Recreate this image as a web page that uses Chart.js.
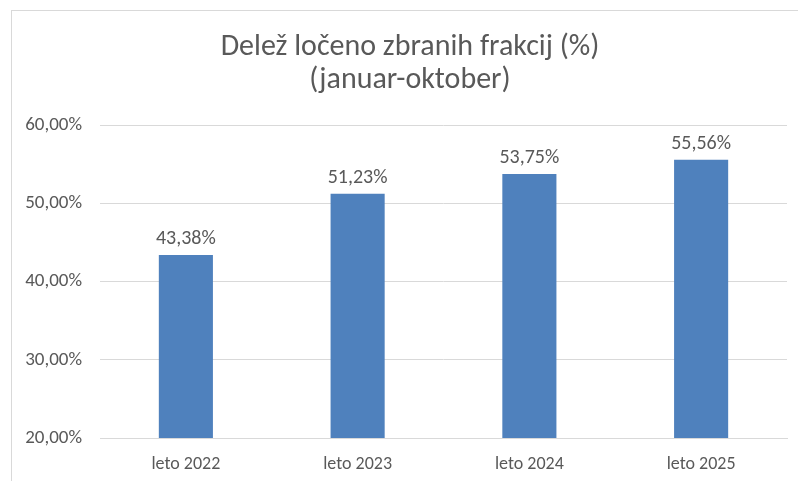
<!DOCTYPE html>
<html>
<head>
<meta charset="utf-8">
<script src="https://cdn.jsdelivr.net/npm/chart.js@4"></script>
<style>
  html, body { margin: 0; padding: 0; background: #fff; }
  .wrap { position: relative; width: 798px; height: 481px; overflow: hidden; }
  .frame { position: absolute; left: 11px; top: 10px; width: 800px; height: 480px; border: 1px solid #d9d9d9; }
  canvas { position: absolute; left: 0; top: 0; }
</style>
</head>
<body>
<div class="wrap">
  <div class="frame"></div>
  <canvas id="chart" width="798" height="481"></canvas>
</div>
<script>
const categories = ["leto 2022", "leto 2023", "leto 2024", "leto 2025"];
const shares = [43.38, 51.23, 53.75, 55.56];
const titleLines = ["Delež ločeno zbranih frakcij (%)", "(januar-oktober)"];

const barColor = "#4F81BD";
const textColor = "#595959";
const gridColor = "#d9d9d9";
const fontFamily = "Carlito, Lato, sans-serif";

function pct(v) {
  return v.toFixed(2).replace(".", ",") + "%";
}

// title is centred on the chart frame, not on the plot, so draw it here
const frameTitle = {
  id: "frameTitle",
  afterDraw(chart) {
    const ctx = chart.ctx;
    ctx.save();
    ctx.font = "30px " + fontFamily;
    ctx.fillStyle = textColor;
    ctx.textAlign = "center";
    ctx.textBaseline = "middle";
    titleLines.forEach((line, i) => {
      ctx.fillText(line, 410, 47 + i * 33);
    });
    ctx.restore();
  }
};

// labels above the bars
const valueLabels = {
  id: "valueLabels",
  afterDatasetsDraw(chart) {
    const ctx = chart.ctx;
    const meta = chart.getDatasetMeta(0);
    ctx.save();
    ctx.font = "20px " + fontFamily;
    ctx.fillStyle = textColor;
    ctx.textAlign = "center";
    ctx.textBaseline = "alphabetic";
    meta.data.forEach((bar, i) => {
      ctx.fillText(pct(shares[i]), bar.x, bar.y - 11);
    });
    ctx.restore();
  }
};

new Chart(document.getElementById("chart"), {
  type: "bar",
  data: {
    labels: categories,
    datasets: [{
      data: shares,
      backgroundColor: barColor,
      borderWidth: 0,
      barPercentage: 0.63,
      categoryPercentage: 0.5
    }]
  },
  options: {
    responsive: false,
    animation: false,
    layout: { padding: { left: 0, right: 11, top: 125, bottom: 7 } },
    plugins: {
      legend: { display: false },
      tooltip: { enabled: false },
      title: { display: false }
    },
    scales: {
      y: {
        min: 20,
        max: 60,
        ticks: {
          stepSize: 10,
          color: textColor,
          padding: 18,
          font: { family: fontFamily, size: 19 },
          callback: (v) => pct(v)
        },
        grid: { color: gridColor, drawTicks: false },
        border: { display: false },
        afterFit(scale) { scale.width = 100; }
      },
      x: {
        ticks: {
          color: textColor,
          padding: 16,
          font: { family: fontFamily, size: 18 }
        },
        grid: { display: false, drawTicks: false },
        border: { color: gridColor },
        afterFit(scale) { scale.height = 36; }
      }
    }
  },
  plugins: [valueLabels, frameTitle]
});
</script>
</body>
</html>
